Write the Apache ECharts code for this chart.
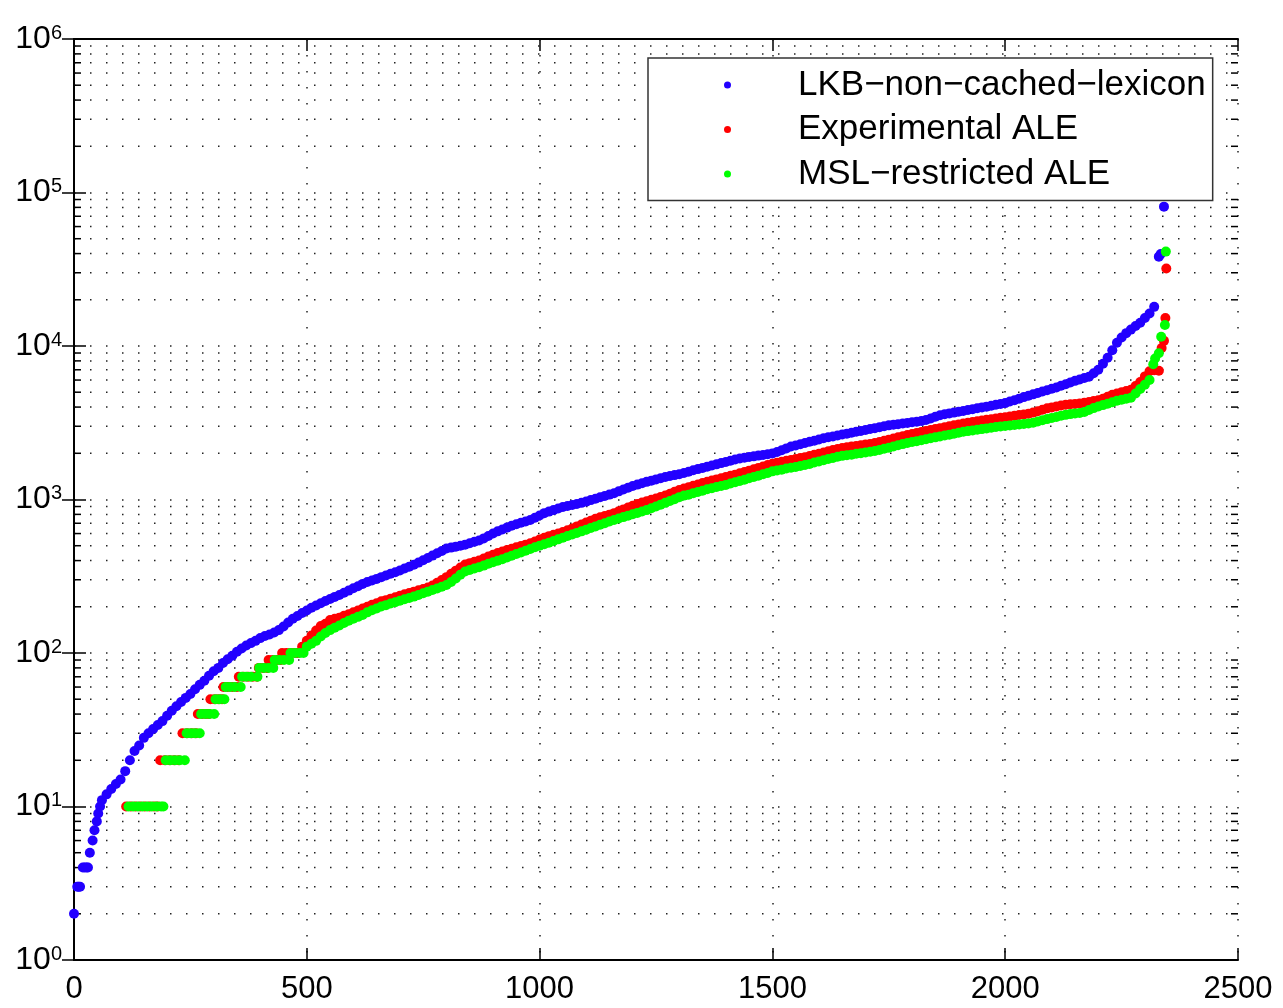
<!DOCTYPE html>
<html>
<head>
<meta charset="utf-8">
<title>Lexicon lookup times</title>
<script src="https://cdn.jsdelivr.net/npm/echarts@6/dist/echarts.min.js"></script>
<style>
  html, body { margin: 0; padding: 0; background: #fff; }
  #main { width: 1283px; height: 1008px; }
</style>
</head>
<body>
<div id="main"></div>
<script>
// series names as printed in the legend
var seriesNames = ['LKB\u2212non\u2212cached\u2212lexicon', 'Experimental ALE', 'MSL\u2212restricted ALE'];

// [rank, value]
var lkbPoints = [
  [0,2],[7,3],[10,3],[13,3],[19,4],[23,4],[27,4],[30,4],[34,5],[40,6],[44,7],[49,8],[52,9],[56,10],
  [60,11],[70,12],[80,13],[90,14],[100,15],[110,17],[120,20],[130,23],[140,25],[150,28],
  [160,30],[170,32],[180,34],[190,36],[200,39],[210,42],[220,45],[230,48],[240,51],[250,54],
  [260,58],[270,62],[280,66],[290,71],[300,76],[310,80],[320,86],[330,91],[340,96],[350,102],
  [360,107],[370,112],[380,116],[390,120],[400,125],[410,129],[420,132],[430,136],[440,141],[450,149],
  [460,158],[470,167],[480,174],[490,182],[500,189],[510,197],[520,204],[530,211],[540,218],[550,225],
  [560,232],[570,239],[580,247],[590,255],[600,264],[610,272],[620,282],[630,290],[640,297],[650,304],
  [660,312],[670,320],[680,328],[690,336],[700,345],[710,355],[720,365],[730,376],[740,388],[750,402],
  [760,416],[770,431],[780,447],[790,462],[800,479],[810,486],[820,493],[830,500],[840,508],[850,519],
  [860,530],[870,541],[880,558],[890,578],[900,600],[910,620],[920,638],[930,656],[940,675],[950,690],
  [960,705],[970,719],[980,735],[990,760],[1000,787],[1010,815],[1020,834],[1030,853],[1040,873],[1050,893],
  [1060,908],[1070,920],[1080,935],[1090,951],[1100,969],[1110,991],[1120,1012],[1130,1033],[1140,1054],[1150,1076],
  [1160,1099],[1170,1130],[1180,1161],[1190,1194],[1200,1225],[1210,1250],[1220,1276],[1230,1303],[1240,1327],[1250,1352],
  [1260,1377],[1270,1400],[1280,1422],[1290,1442],[1300,1462],[1310,1489],[1320,1517],[1330,1549],[1340,1578],[1350,1607],
  [1360,1637],[1370,1667],[1380,1694],[1390,1726],[1400,1754],[1410,1786],[1420,1820],[1430,1849],[1440,1871],[1450,1892],
  [1460,1910],[1470,1932],[1480,1950],[1490,1972],[1500,1995],[1510,2037],[1520,2094],[1530,2153],[1540,2213],[1550,2249],
  [1560,2291],[1570,2333],[1580,2377],[1590,2415],[1600,2460],[1610,2506],[1620,2541],[1630,2576],[1640,2612],[1650,2649],
  [1660,2685],[1670,2723],[1680,2761],[1690,2799],[1700,2838],[1710,2877],[1720,2917],[1730,2958],[1740,2999],[1750,3041],
  [1760,3069],[1770,3097],[1780,3126],[1790,3155],[1800,3184],[1810,3214],[1820,3243],[1830,3296],[1840,3373],[1850,3459],
  [1860,3540],[1870,3589],[1880,3639],[1890,3681],[1900,3733],[1910,3776],[1920,3828],[1930,3873],[1940,3926],[1950,3981],
  [1960,4027],[1970,4083],[1980,4140],[1990,4188],[2000,4246],[2010,4345],[2020,4436],[2030,4539],[2040,4645],[2050,4742],
  [2060,4842],[2070,4943],[2080,5047],[2090,5152],[2100,5260],[2110,5370],[2120,5508],[2130,5636],[2140,5781],[2150,5929],
  [2160,6053],[2170,6180],[2180,6310],[2190,6637],[2200,7000],[2210,7656],[2220,8395],[2230,9376],[2240,10500],[2250,11350],
  [2260,12130],[2270,12790],[2280,13490],[2290,14190],[2300,15200],[2310,16290],[2320,17990],
  [2330,38200],[2334,39800],[2341,80900]
];

var expPoints = [
  [112,10],[122,10],[132,10],[142,10],[152,10],[162,10],[172,10],[180,10],
  [185,20],[195,20],[205,20],[215,20],[225,20],
  [233,30],[243,30],[253,30],[262,30],
  [266,40],[275,40],[283,40],[290,40],
  [293,50],[302,50],[310,50],[318,50],
  [321,60],[330,60],[340,60],[350,60],
  [354,70],[364,70],[374,70],[384,70],[393,70],
  [397,80],[406,80],[415,80],
  [418,90],[427,90],[436,90],[444,90],
  [447,100],[456,100],[465,100],[474,100],[480,100],
  [490,110],[500,120],[510,130],[520,140],[530,150],[540,155],[550,164],
  [560,167],[570,170],[580,175],[590,179],[600,184],[610,189],[620,195],[630,200],[640,206],[650,211],
  [660,217],[670,221],[680,226],[690,231],[700,236],[710,241],[720,246],[730,251],[740,256],[750,261],
  [760,267],[770,275],[780,287],[790,299],[800,312],[810,328],[820,344],[830,361],[840,377],[850,385],
  [860,393],[870,401],[880,412],[890,425],[900,436],[910,448],[920,458],[930,468],[940,478],[950,488],
  [960,498],[970,508],[980,518],[990,533],[1000,548],[1010,563],[1020,577],[1030,589],[1040,601],[1050,613],
  [1060,630],[1070,648],[1080,668],[1090,688],[1100,708],[1110,728],[1120,749],[1130,765],[1140,781],[1150,797],
  [1160,815],[1170,838],[1180,862],[1190,886],[1200,910],[1210,933],[1220,957],[1230,975],[1240,995],[1250,1016],
  [1260,1038],[1270,1062],[1280,1091],[1290,1122],[1300,1153],[1310,1178],[1320,1202],[1330,1227],[1340,1253],[1350,1279],
  [1360,1306],[1370,1330],[1380,1352],[1390,1377],[1400,1403],[1410,1429],[1420,1452],[1430,1480],[1440,1510],[1450,1542],
  [1460,1574],[1470,1607],[1480,1641],[1490,1675],[1500,1710],[1510,1738],[1520,1762],[1530,1787],[1540,1811],[1550,1837],
  [1560,1862],[1570,1888],[1580,1919],[1590,1954],[1600,1986],[1610,2023],[1620,2061],[1630,2099],[1640,2133],[1650,2168],
  [1660,2188],[1670,2213],[1680,2234],[1690,2259],[1700,2280],[1710,2301],[1720,2333],[1730,2371],[1740,2410],[1750,2455],
  [1760,2495],[1770,2541],[1780,2582],[1790,2630],[1800,2673],[1810,2710],[1820,2754],[1830,2793],[1840,2840],[1850,2877],
  [1860,2917],[1870,2958],[1880,2999],[1890,3041],[1900,3083],[1910,3130],[1920,3162],[1930,3199],[1940,3236],[1950,3266],
  [1960,3304],[1970,3334],[1980,3373],[1990,3404],[2000,3436],[2010,3475],[2020,3508],[2030,3548],[2040,3581],[2050,3622],
  [2060,3681],[2070,3758],[2080,3846],[2090,3925],[2100,3981],[2110,4036],[2120,4093],[2130,4140],[2140,4169],[2150,4188],
  [2160,4217],[2170,4266],[2180,4315],[2190,4375],[2200,4436],[2210,4529],[2220,4667],[2230,4808],[2240,4909],[2250,5000],
  [2260,5082],[2270,5188],[2280,5495],[2290,5821],[2300,6339],[2310,6850],[2320,6950],[2330,6900],
  [2336,9700],[2341,10800],[2344,15200],[2346,32000]
];

var mslPoints = [
  [117,10],[127,10],[137,10],[147,10],[157,10],[167,10],[177,10],[187,10],[192,10],
  [197,20],[207,20],[217,20],[227,20],[238,20],
  [242,30],[251,30],[260,30],[270,30],
  [273,40],[282,40],[291,40],[301,40],
  [304,50],[313,50],[323,50],
  [326,60],[335,60],[345,60],[358,60],
  [361,70],[370,70],[380,70],[394,70],
  [398,80],[408,80],[418,80],[428,80],
  [431,90],[441,90],[451,90],[462,90],
  [465,100],[475,100],[485,100],[493,100],
  [500,110],[510,115],[520,120],[530,128],[540,135],[550,141],
  [560,146],[570,151],[580,157],[590,162],[600,167],[610,172],[620,177],[630,184],[640,190],[650,195],
  [660,201],[670,205],[680,210],[690,214],[700,219],[710,224],[720,228],[730,233],[740,239],[750,245],
  [760,251],[770,257],[780,263],[790,270],[800,277],[810,290],[820,306],[830,324],[840,340],[850,347],
  [860,355],[870,362],[880,371],[890,381],[900,390],[910,399],[920,408],[930,419],[940,430],[950,441],
  [960,452],[970,464],[980,476],[990,488],[1000,500],[1010,511],[1020,523],[1030,537],[1040,550],[1050,564],
  [1060,578],[1070,592],[1080,606],[1090,620],[1100,636],[1110,652],[1120,668],[1130,684],[1140,700],[1150,718],
  [1160,736],[1170,752],[1180,768],[1190,785],[1200,802],[1210,818],[1220,836],[1230,853],[1240,876],[1250,901],
  [1260,926],[1270,951],[1280,977],[1290,1005],[1300,1036],[1310,1060],[1320,1075],[1330,1100],[1340,1120],[1350,1140],
  [1360,1165],[1370,1185],[1380,1205],[1390,1225],[1400,1245],[1410,1270],[1420,1295],[1430,1320],[1440,1345],[1450,1375],
  [1460,1400],[1470,1430],[1480,1460],[1490,1490],[1500,1525],[1510,1545],[1520,1565],[1530,1590],[1540,1610],[1550,1630],
  [1560,1655],[1570,1680],[1580,1705],[1590,1740],[1600,1770],[1610,1800],[1620,1835],[1630,1865],[1640,1900],[1650,1925],
  [1660,1945],[1670,1960],[1680,1985],[1690,2005],[1700,2025],[1710,2045],[1720,2070],[1730,2105],[1740,2140],[1750,2175],
  [1760,2215],[1770,2255],[1780,2295],[1790,2335],[1800,2370],[1810,2400],[1820,2435],[1830,2470],[1840,2505],[1850,2540],
  [1860,2575],[1870,2610],[1880,2645],[1890,2680],[1900,2720],[1910,2765],[1920,2790],[1930,2815],[1940,2845],[1950,2875],
  [1960,2905],[1970,2935],[1980,2970],[1990,2990],[2000,3010],[2010,3035],[2020,3060],[2030,3085],[2040,3105],[2050,3125],
  [2060,3160],[2070,3220],[2080,3280],[2090,3340],[2100,3400],[2110,3450],[2120,3510],[2130,3560],[2140,3600],[2150,3630],
  [2160,3660],[2170,3720],[2180,3830],[2190,3940],[2200,4040],[2210,4120],[2220,4210],[2230,4300],[2240,4400],[2250,4470],
  [2260,4530],[2270,4600],[2280,4900],[2290,5250],[2300,5600],[2310,6010],
  [2318,7600],[2322,8300],[2330,8960],[2335,11500],[2343,13700],[2345,41200]
];

// axis set-up
var xMax = 2500;
var xStep = 500;
var yMin = 1;
var yMax = 1000000;
var minorMultipliers = [2, 3, 4, 5, 6, 7, 8, 9];

var minorGrid = [];
for (var d = yMin; d < yMax; d *= 10) {
  minorMultipliers.forEach(function (m) { minorGrid.push([0, m * d]); });
}

var font = 'Liberation Sans';
var dotted = [1.5, 14.5];
var dotSize = 10;

var chart = echarts.init(document.getElementById('main'));

var option = {
  animation: false,
  backgroundColor: '#fff',
  grid: { left: 74, right: 45, top: 39, bottom: 48 },
  legend: {
    data: seriesNames,
    orient: 'vertical',
    left: 648,
    top: 58,
    icon: 'circle',
    itemWidth: 7,
    itemHeight: 7,
    itemGap: 9.5,
    padding: [9.5, 7, 9, 76],
    backgroundColor: '#fff',
    borderColor: '#333',
    borderWidth: 1.5,
    selectedMode: false,
    textStyle: { fontFamily: font, fontSize: 35, lineHeight: 35, color: '#000', padding: [0, 0, 0, 62] }
  },
  xAxis: [
    {
      type: 'value', min: 0, max: xMax, interval: xStep, position: 'bottom',
      axisLine: { lineStyle: { color: '#000', width: 2 } },
      axisTick: { inside: true, length: 12, lineStyle: { color: '#000', width: 1.5 } },
      axisLabel: {
        color: '#000', fontFamily: font, fontSize: 31, margin: 14,
        formatter: function (v) { return String(v); }
      },
      splitLine: { show: true, lineStyle: { color: '#222', width: 1.5, type: dotted } }
    },
    {
      type: 'value', min: 0, max: xMax, interval: xStep, position: 'top',
      axisLine: { lineStyle: { color: '#000', width: 2 } },
      axisTick: { inside: true, length: 12, lineStyle: { color: '#000', width: 1.5 } },
      axisLabel: { show: false },
      splitLine: { show: false }
    }
  ],
  yAxis: [
    {
      type: 'log', logBase: 10, min: yMin, max: yMax, position: 'left',
      axisLine: { lineStyle: { color: '#000', width: 2 } },
      axisTick: { inside: true, length: 12, lineStyle: { color: '#000', width: 1.5 } },
      axisLabel: {
        margin: 12,
        formatter: function (v) {
          return '{b|10}{s|' + Math.round(Math.log10(v)) + '}';
        },
        rich: {
          b: { fontFamily: font, fontSize: 32, lineHeight: 32, color: '#000', padding: [11, 0, 0, 0], verticalAlign: 'bottom' },
          s: { fontFamily: font, fontSize: 20, lineHeight: 20, color: '#000', verticalAlign: 'top' }
        }
      },
      splitLine: { show: true, lineStyle: { color: '#222', width: 1.5, type: dotted } }
    },
    {
      type: 'log', logBase: 10, min: yMin, max: yMax, position: 'right',
      axisLine: { lineStyle: { color: '#000', width: 2 } },
      axisTick: { inside: true, length: 12, lineStyle: { color: '#000', width: 1.5 } },
      axisLabel: { show: false },
      splitLine: { show: false }
    }
  ],
  series: [
    {
      // minor log grid lines and the small ticks on both sides
      type: 'custom',
      silent: true,
      z: 1,
      xAxisIndex: 0,
      yAxisIndex: 0,
      encode: { x: 0, y: 1 },
      data: minorGrid,
      renderItem: function (params, api) {
        var v = api.value(1);
        var a = api.coord([0, v]);
        var b = api.coord([xMax, v]);
        return {
          type: 'group',
          children: [
            { type: 'line', shape: { x1: a[0], y1: a[1], x2: b[0], y2: b[1] },
              style: { stroke: '#222', lineWidth: 1.5, lineDash: dotted } },
            { type: 'line', shape: { x1: a[0], y1: a[1], x2: a[0] + 7, y2: a[1] },
              style: { stroke: '#000', lineWidth: 1.5 } },
            { type: 'line', shape: { x1: b[0] - 7, y1: b[1], x2: b[0], y2: b[1] },
              style: { stroke: '#000', lineWidth: 1.5 } }
          ]
        };
      }
    },
    {
      name: seriesNames[0], type: 'scatter', symbol: 'circle', symbolSize: dotSize,
      itemStyle: { color: '#2200ff', opacity: 1 }, data: lkbPoints, z: 2
    },
    {
      name: seriesNames[1], type: 'scatter', symbol: 'circle', symbolSize: dotSize,
      itemStyle: { color: '#ff0000', opacity: 1 }, data: expPoints, z: 3
    },
    {
      name: seriesNames[2], type: 'scatter', symbol: 'circle', symbolSize: dotSize,
      itemStyle: { color: '#00ff00', opacity: 1 }, data: mslPoints, z: 4
    }
  ]
};

chart.setOption(option);
window.addEventListener('resize', function () { chart.resize(); });
</script>
</body>
</html>
